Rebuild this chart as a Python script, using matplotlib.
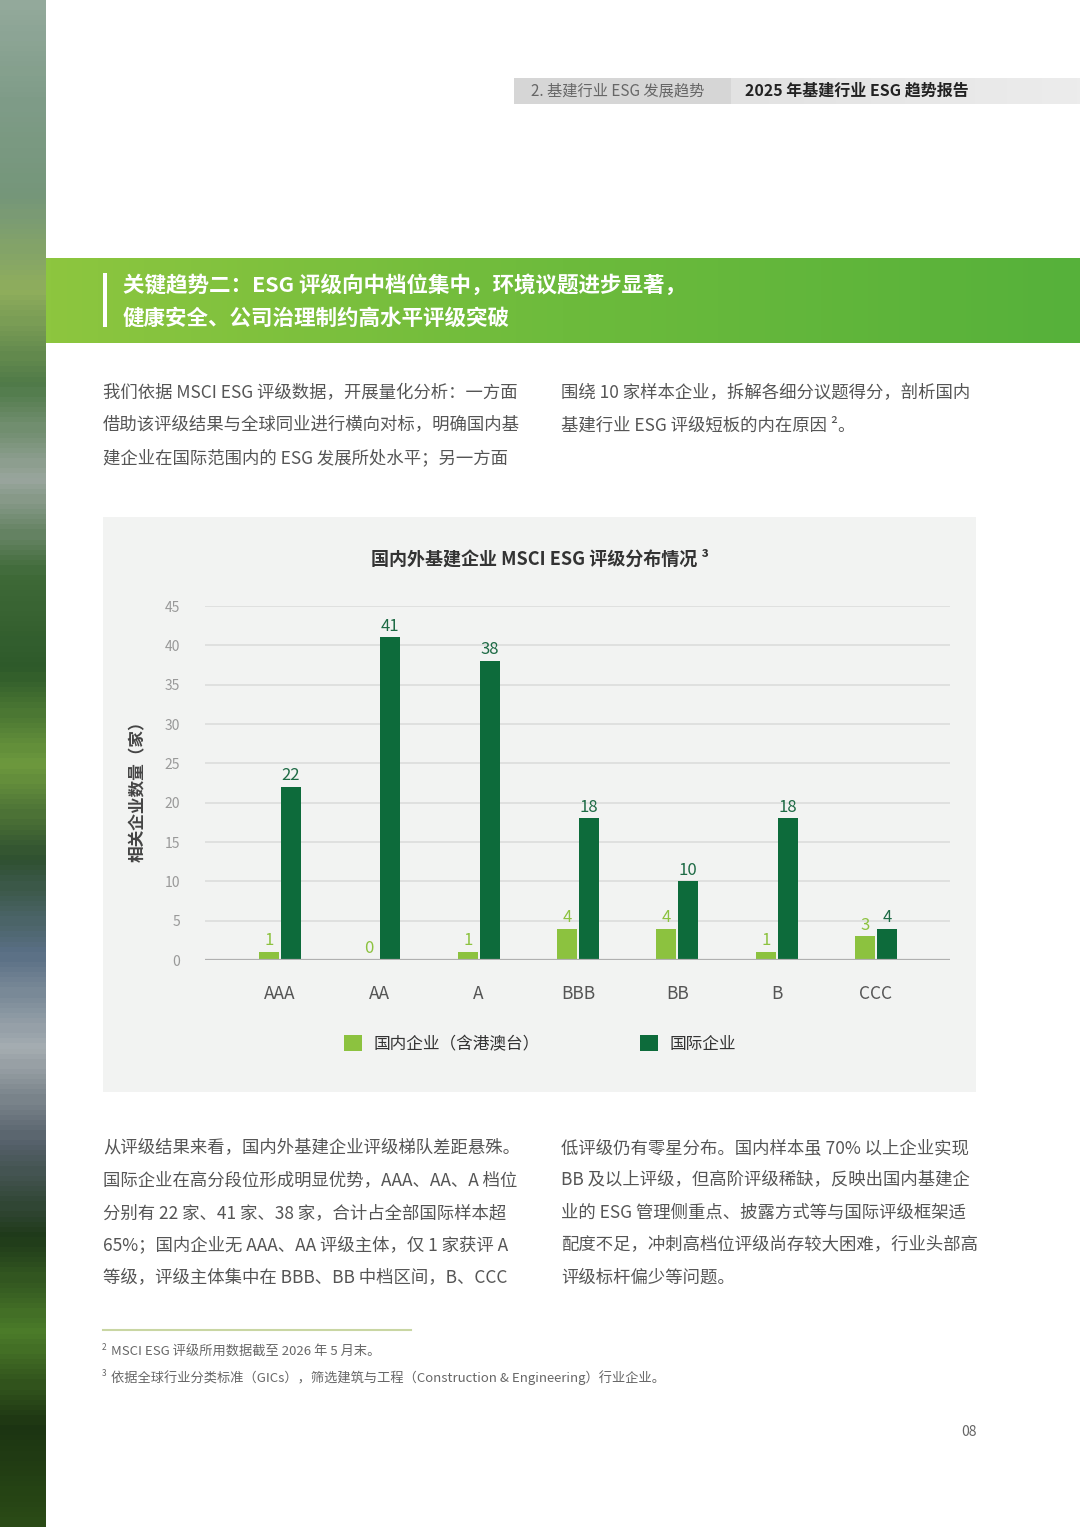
import numpy as np
import matplotlib
matplotlib.use('Agg')
import matplotlib.pyplot as plt
from matplotlib.patches import Rectangle
from matplotlib.colors import LinearSegmentedColormap

plt.rcParams['font.family'] = ['Noto Sans CJK SC', 'DejaVu Sans']

# data
ratings = ['AAA', 'AA', 'A', 'BBB', 'BB', 'B', 'CCC']
domestic = [1, 0, 1, 4, 4, 1, 3]
international = [22, 41, 38, 18, 10, 18, 4]
series_names = ['国内企业（含港澳台）', '国际企业']
yticks = [0, 5, 10, 15, 20, 25, 30, 35, 40, 45]

chart_title = '国内外基建企业 MSCI ESG 评级分布情况 ³'
ylabel = '相关企业数量（家）'

header_left = '2. 基建行业 ESG 发展趋势'
header_right = '2025 年基建行业 ESG 趋势报告'
banner = ['关键趋势二：ESG 评级向中档位集中，环境议题进步显著，',
          '健康安全、公司治理制约高水平评级突破']
intro_left = ['我们依据 MSCI ESG 评级数据，开展量化分析：一方面',
              '借助该评级结果与全球同业进行横向对标，明确国内基',
              '建企业在国际范围内的 ESG 发展所处水平；另一方面']
intro_right = ['围绕 10 家样本企业，拆解各细分议题得分，剖析国内',
               '基建行业 ESG 评级短板的内在原因 ²。']
body_left = ['从评级结果来看，国内外基建企业评级梯队差距悬殊。',
             '国际企业在高分段位形成明显优势，AAA、AA、A 档位',
             '分别有 22 家、41 家、38 家，合计占全部国际样本超',
             '65%；国内企业无 AAA、AA 评级主体，仅 1 家获评 A',
             '等级，评级主体集中在 BBB、BB 中档区间，B、CCC']
body_right = ['低评级仍有零星分布。国内样本虽 70% 以上企业实现',
              'BB 及以上评级，但高阶评级稀缺，反映出国内基建企',
              '业的 ESG 管理侧重点、披露方式等与国际评级框架适',
              '配度不足，冲刺高档位评级尚存较大困难，行业头部高',
              '评级标杆偏少等问题。']
notes = [('2', 'MSCI ESG 评级所用数据截至 2026 年 5 月末。'),
         ('3', '依据全球行业分类标准（GICs），筛选建筑与工程（Construction & Engineering）行业企业。')]
page_no = '08'

light_green = '#8cc23f'
dark_green = '#0d6b3b'

W, H = 1080, 1527
fig = plt.figure(figsize=(W / 100, H / 100), dpi=100)
fig.patch.set_facecolor('white')

bg = fig.add_axes([0, 0, 1, 1])
bg.set_xlim(0, W)
bg.set_ylim(H, 0)
bg.axis('off')

# left photo strip (approximated by a colour gradient)
strip_cols = ['#93a99b', '#7f9c88', '#75967a', '#8fae5c', '#4f7a48', '#9aa69e',
              '#3f6a38', '#2e5a2a', '#6e9a3e', '#2f5030', '#5a6f85', '#a6aeb2',
              '#55606a', '#1f3a1a', '#4c7c2a', '#1c3412', '#2a4a16']
cm_strip = LinearSegmentedColormap.from_list('strip', strip_cols)
bg.imshow(np.linspace(0, 1, 300).reshape(-1, 1), cmap=cm_strip, aspect='auto',
          extent=[0, 46, H, 0], zorder=1)

# header band
bg.add_patch(Rectangle((514, 78), 217, 26, color='#d6d6d6', lw=0))
cm_head = LinearSegmentedColormap.from_list('head', ['#e2e2e2', '#ececec'])
bg.imshow(np.linspace(0, 1, 100).reshape(1, -1), cmap=cm_head, aspect='auto',
          extent=[731, 1080, 104, 78], zorder=1)
bg.text(531, 91, header_left, fontsize=11, color='#666666', va='center')
bg.text(745, 91, header_right, fontsize=11.5, color='#222222', va='center',
        fontweight='bold')

# green banner
cm_ban = LinearSegmentedColormap.from_list('ban', ['#8dc63f', '#6dbb3c', '#56b13a'])
bg.imshow(np.linspace(0, 1, 200).reshape(1, -1), cmap=cm_ban, aspect='auto',
          extent=[46, W, 343, 258], zorder=1)
bg.add_patch(Rectangle((103, 273), 4, 54, color='white', lw=0, zorder=2))
bg.text(123, 285, banner[0], fontsize=15.5, color='white', fontweight='bold',
        va='center', zorder=3)
bg.text(123, 318, banner[1], fontsize=15.5, color='white', fontweight='bold',
        va='center', zorder=3)

# intro paragraphs
for i, s in enumerate(intro_left):
    bg.text(103, 393 + i * 32.5, s, fontsize=12.5, color='#555555', va='center')
for i, s in enumerate(intro_right):
    bg.text(561, 393 + i * 32.5, s, fontsize=12.5, color='#555555', va='center')

# chart panel
bg.add_patch(Rectangle((103, 517), 873, 575, color='#f2f3f2', lw=0))
bg.text(540, 559, chart_title, fontsize=13, color='#333333', fontweight='bold',
        ha='center', va='center')
bg.text(138, 787, ylabel, fontsize=12, color='#444444', fontweight='bold',
        rotation=90, ha='center', va='center')

ax = fig.add_axes([205 / W, 1 - 960 / H, (950 - 205) / W, (960 - 606) / H])
ax.set_facecolor('none')
x = np.arange(len(ratings))
bw = 0.2
off = 0.11
b1 = ax.bar(x - off, domestic, bw, color=light_green, zorder=3, label=series_names[0])
b2 = ax.bar(x + off, international, bw, color=dark_green, zorder=3, label=series_names[1])
for xi, v in zip(x, domestic):
    ax.annotate(str(v), (xi - off, v), xytext=(0, 2), textcoords='offset points',
                ha='center', va='bottom', fontsize=12, color=light_green)
for xi, v in zip(x, international):
    ax.annotate(str(v), (xi + off, v), xytext=(0, 2), textcoords='offset points',
                ha='center', va='bottom', fontsize=12, color='#1e6b45')
ax.set_xlim(-0.755, 6.745)
ax.set_ylim(0, 45)
ax.set_yticks(yticks)
ax.set_xticks(x)
ax.set_xticklabels(ratings)
ax.tick_params(axis='y', length=0, pad=18, labelsize=10, labelcolor='#999999')
ax.tick_params(axis='x', length=0, pad=18, labelsize=12.5, labelcolor='#555555')
ax.grid(axis='y', color='#dcdddc', lw=1.2, zorder=0)
for sp in ax.spines.values():
    sp.set_visible(False)
ax.axhline(0, color='#b0b0b0', lw=1.6, zorder=4)

fig.legend(handles=[b1, b2], loc='center', bbox_to_anchor=(540 / W, 1 - 1044 / H),
           ncol=2, frameon=False, fontsize=12, handlelength=1.1, handleheight=1.1,
           handletextpad=0.7, columnspacing=6.0, labelcolor='#333333')

# body paragraphs
for i, s in enumerate(body_left):
    bg.text(103, 1148 + i * 32.5, s, fontsize=12.5, color='#555555', va='center')
for i, s in enumerate(body_right):
    bg.text(561, 1148 + i * 32.5, s, fontsize=12.5, color='#555555', va='center')

# footnotes
bg.plot([103, 411], [1330, 1330], color='#c9d6a3', lw=1.5)
for i, (sup, s) in enumerate(notes):
    y = 1352 + i * 26
    bg.text(102, y - 4, sup, fontsize=6, color='#666666', va='center')
    bg.text(111, y, s, fontsize=9.5, color='#666666', va='center')
bg.text(969, 1432, page_no, fontsize=10, color='#666666', ha='center', va='center')

fig.savefig('out.png', dpi=100)
